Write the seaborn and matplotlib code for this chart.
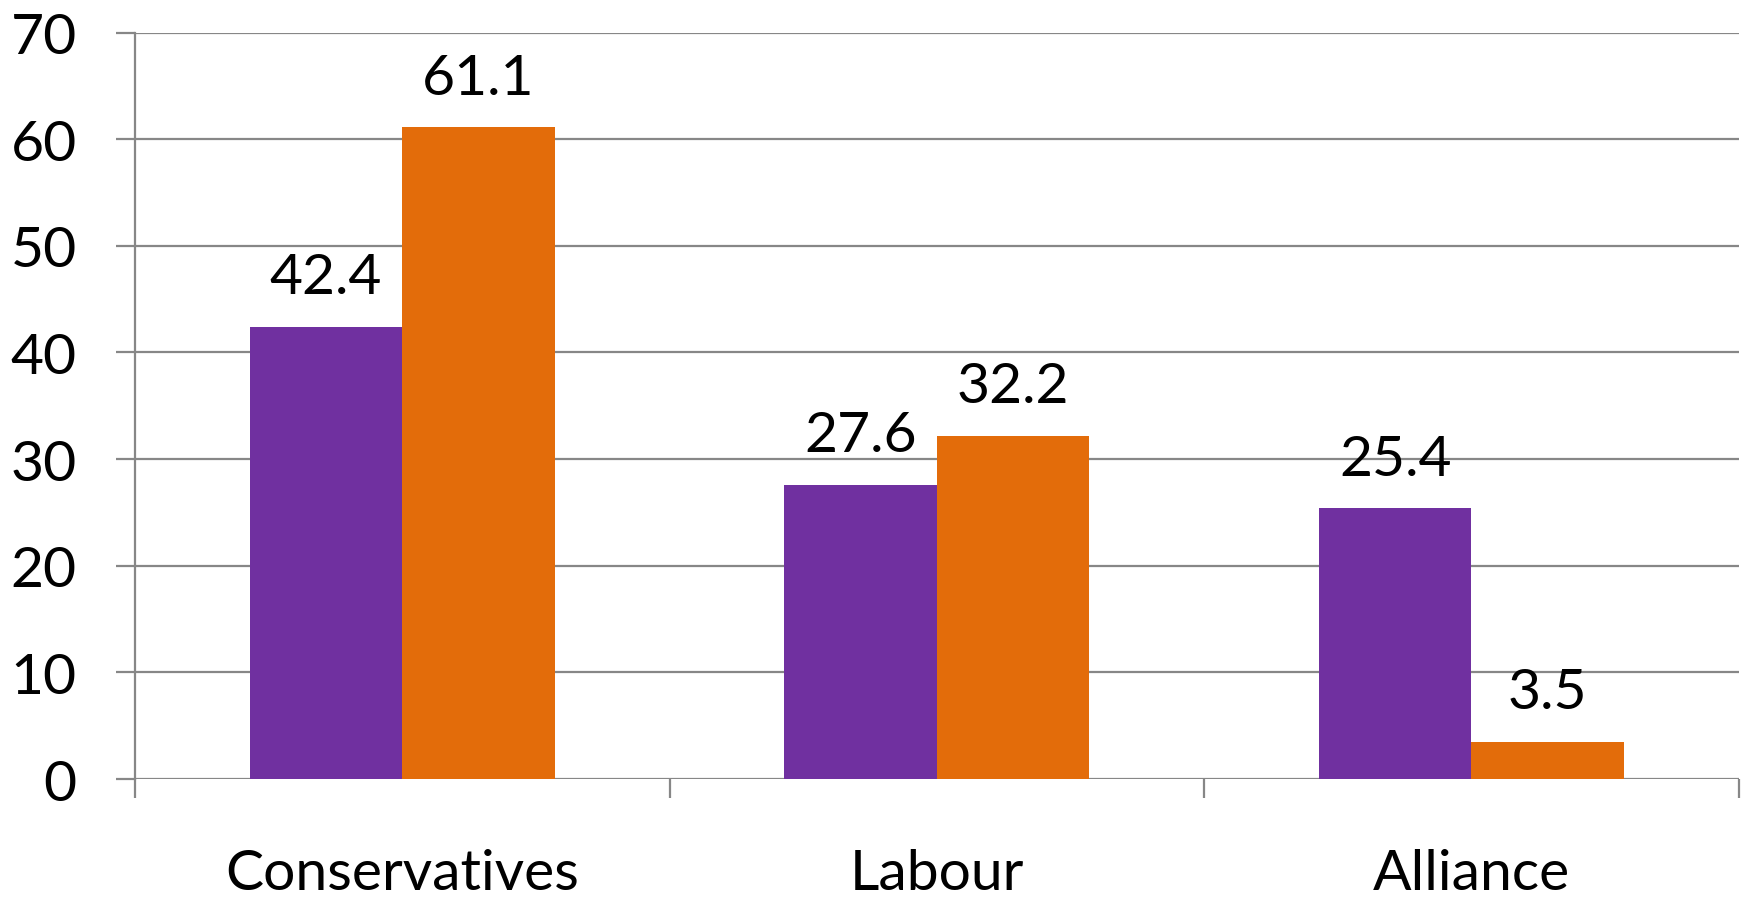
import matplotlib
matplotlib.use("Agg")
import matplotlib.pyplot as plt
import pandas as pd
import seaborn as sns
from matplotlib.ticker import FixedLocator, MultipleLocator

# 政党別の値（2系列）
parties = ["Conservatives", "Labour", "Alliance"]
series_names = ["Votes", "Seats"]
votes = [42.4, 27.6, 25.4]
seats = [61.1, 32.2, 3.5]
colors = ["#7030A0", "#E36C0A"]

GRID = "#878787"
FONT_SIZE = 41

df = pd.DataFrame({
    "party": parties * 2,
    "series": [series_names[0]] * 3 + [series_names[1]] * 3,
    "value": votes + seats,
})

sns.set_theme(style="white")
plt.rcParams["font.family"] = ["Lato", "DejaVu Sans"]

fig = plt.figure(figsize=(17.46, 9.03), dpi=100)
ax = fig.add_axes([0.0773, 0.1362, 0.9185, 0.8267])

sns.barplot(
    data=df, x="party", y="value", hue="series", order=parties,
    hue_order=series_names, palette=colors, width=0.57, gap=0,
    saturation=1, linewidth=0, legend=False, ax=ax,
)

for container in ax.containers:
    ax.bar_label(container, fmt="%.1f", padding=17, fontsize=FONT_SIZE, color="black")

ax.set_xlim(-0.5, 2.5)
ax.set_ylim(0, 70)
ax.yaxis.set_major_locator(MultipleLocator(10))
ax.grid(axis="y", color=GRID, linewidth=1.6)
ax.set_axisbelow(True)

for side in ["top", "right", "bottom"]:
    ax.spines[side].set_visible(False)
ax.spines["left"].set_color(GRID)
ax.spines["left"].set_linewidth(1.6)

# 目盛り：y軸は左側、x軸はカテゴリ境界に下向きの短い線
ax.xaxis.set_minor_locator(FixedLocator([-0.5, 0.5, 1.5, 2.5]))
ax.tick_params(axis="x", which="major", length=0, pad=50, labelsize=FONT_SIZE, colors="black")
ax.tick_params(axis="x", which="minor", length=14, width=1.6, color=GRID, bottom=True)
ax.tick_params(axis="y", which="major", length=14, width=1.6, color=GRID, pad=28,
               labelsize=FONT_SIZE, labelcolor="black", left=True)

ax.set_xlabel("")
ax.set_ylabel("")

fig.savefig("out.png", dpi=100)
